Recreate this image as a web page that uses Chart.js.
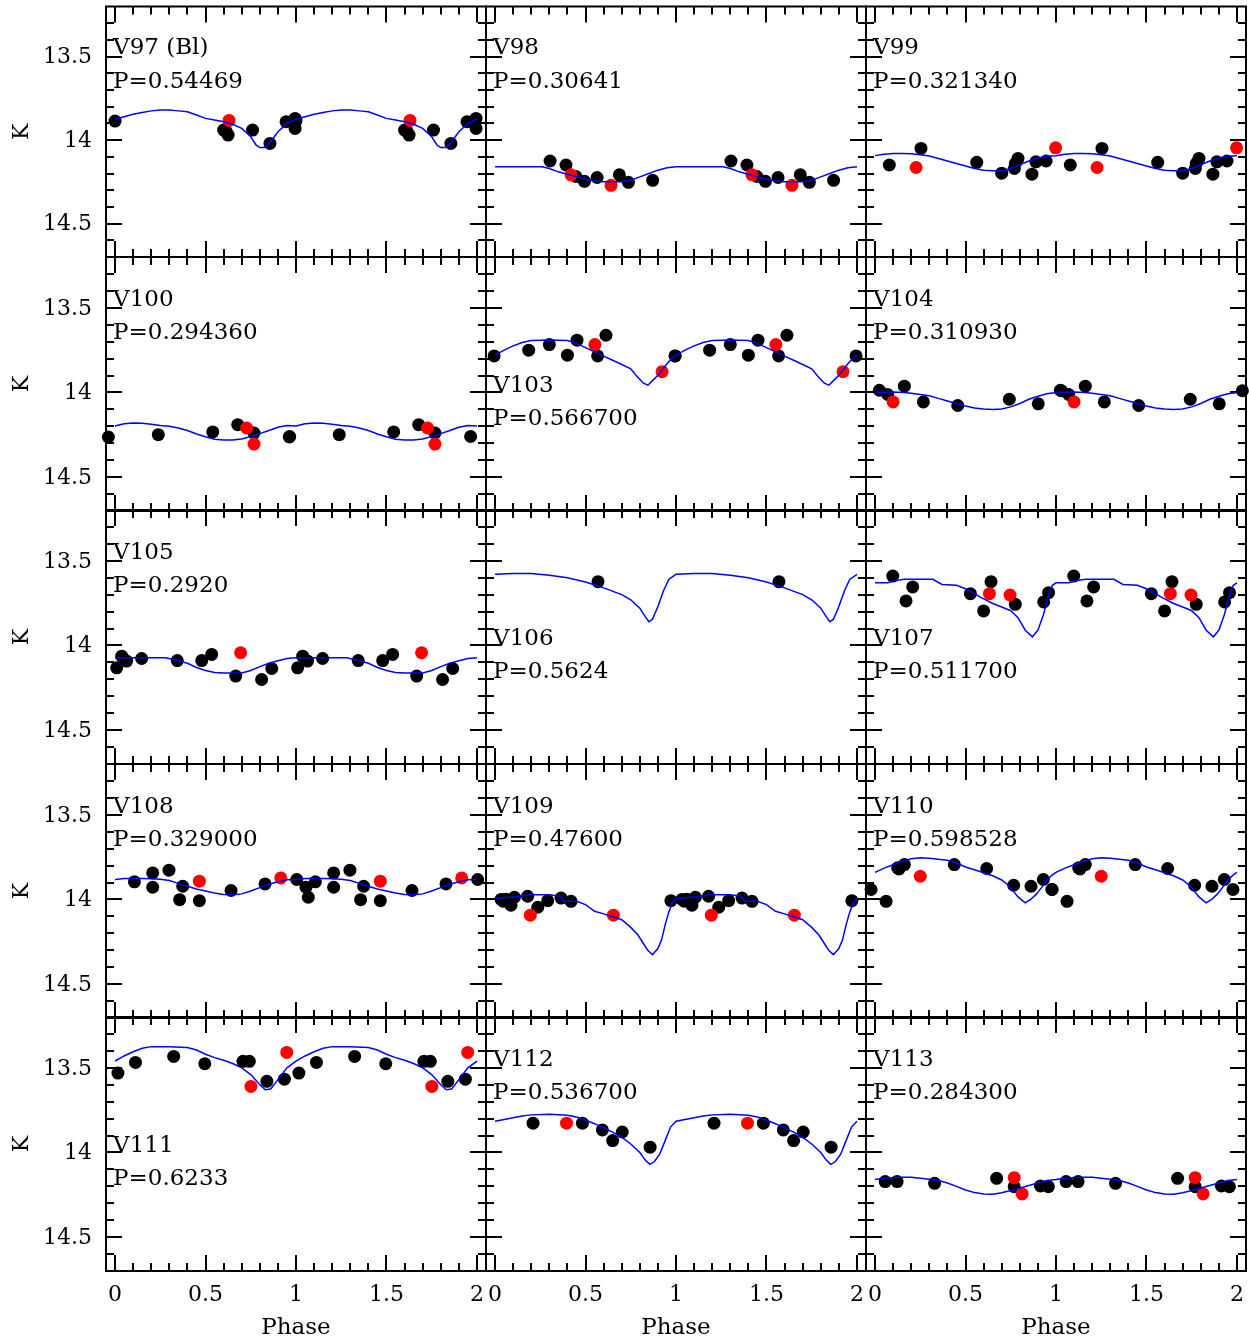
<!DOCTYPE html>
<html>
<head>
<meta charset="utf-8">
<title>K-band light curves</title>
<script src="https://cdn.jsdelivr.net/npm/chart.js@4.4.1/dist/chart.umd.min.js"></script>
<style>
  html, body { margin: 0; padding: 0; background: #fff; width: 1249px; height: 1341px; overflow: hidden; }
  canvas { position: absolute; }
</style>
</head>
<body>
<script>
// ---- axis ticks -------------------------------------------------------
const phaseTicks = [0, 0.5, 1, 1.5, 2];
const phaseTickLabels = ['0', '0.5', '1', '1.5', '2'];
const magTicks = [13.5, 14, 14.5];
const magTickLabels = ['13.5', '14', '14.5'];

// ---- stars: name and period, row by row -------------------------------
const starNames = ['V97 (Bl)', 'V98', 'V99', 'V100', 'V103', 'V104', 'V105', 'V106', 'V107',
                   'V108', 'V109', 'V110', 'V111', 'V112', 'V113'];
const periodLabels = ['P=0.54469', 'P=0.30641', 'P=0.321340', 'P=0.294360', 'P=0.566700', 'P=0.310930',
                      'P=0.2920', 'P=0.5624', 'P=0.511700', 'P=0.329000', 'P=0.47600', 'P=0.598528',
                      'P=0.6233', 'P=0.536700', 'P=0.284300'];
// stars whose name sits lower in the panel
const lowLabelStars = ['V103', 'V106', 'V107', 'V111'];

// ---- photometry [phase, K] (black = one data set, red = the other) ----
const v97Black = [[0.0, 13.886], [0.60, 13.94], [0.625, 13.97], [0.615, 13.95], [0.76, 13.94], [0.856, 14.02], [0.945, 13.89], [0.995, 13.87], [0.995, 13.93]];
const v97Red = [[0.63, 13.882]];
const v98Black = [[0.304, 14.125], [0.392, 14.149], [0.447, 14.218], [0.494, 14.247], [0.564, 14.224], [0.687, 14.208], [0.737, 14.253], [0.871, 14.241]];
const v98Red = [[0.42, 14.208], [0.641, 14.271]];
const v99Black = [[0.079, 14.149], [0.254, 14.05], [0.562, 14.133], [0.70, 14.198], [0.77, 14.17], [0.775, 14.14], [0.79, 14.11], [0.867, 14.204], [0.889, 14.13], [0.945, 14.125]];
const v99Red = [[0.227, 14.164], [0.998, 14.046]];
const v100Black = [[-0.037, 14.263], [0.239, 14.249], [0.54, 14.233], [0.678, 14.19], [0.768, 14.24], [0.965, 14.26]];
const v100Red = [[0.727, 14.21], [0.768, 14.305]];
const v103Black = [[-0.005, 13.784], [0.186, 13.75], [0.30, 13.717], [0.40, 13.78], [0.453, 13.691], [0.567, 13.784], [0.613, 13.662], [0.995, 13.784]];
const v103Red = [[0.552, 13.717], [0.923, 13.877]];
const v104Black = [[0.024, 13.987], [0.07, 14.012], [0.162, 13.963], [0.267, 14.056], [0.457, 14.077], [0.742, 14.04], [0.902, 14.067], [1.03, 13.99]];
const v104Red = [[0.10, 14.056]];
const v105Black = [[0.009, 14.132], [0.037, 14.063], [0.064, 14.092], [0.147, 14.077], [0.344, 14.089], [0.479, 14.089], [0.534, 14.053], [0.667, 14.181], [0.81, 14.201], [0.866, 14.136]];
const v105Red = [[0.694, 14.043]];
const v106Black = [[0.569, 13.623]];
const v106Red = [];
const v107Black = [[0.098, 13.59], [0.171, 13.737], [0.208, 13.654], [0.527, 13.694], [0.60, 13.796], [0.641, 13.623], [0.775, 13.757], [0.932, 13.743], [0.959, 13.688]];
const v107Red = [[0.632, 13.694], [0.746, 13.702]];
const v108Black = [[0.107, 13.896], [0.208, 13.843], [0.208, 13.928], [0.298, 13.827], [0.357, 14.001], [0.374, 13.922], [0.466, 14.007], [0.641, 13.947], [0.829, 13.908], [1.004, 13.882], [1.055, 13.928], [1.068, 13.987]];
const v108Red = [[0.466, 13.892], [0.916, 13.873]];
const v109Black = [[0.033, 14.0], [0.045, 14.01], [0.06, 13.998], [0.088, 14.034], [0.107, 13.987], [0.18, 13.981], [0.236, 14.046], [0.291, 14.007], [0.365, 13.992], [0.42, 14.011], [0.972, 14.007]];
const v109Red = [[0.195, 14.093], [0.654, 14.093]];
const v110Black = [[-0.022, 13.941], [0.061, 14.011], [0.125, 13.813], [0.133, 13.82], [0.162, 13.794], [0.438, 13.794], [0.617, 13.817], [0.766, 13.916], [0.862, 13.922], [0.93, 13.882], [0.978, 13.941]];
const v110Red = [[0.25, 13.863]];
const v111Black = [[0.016, 13.531], [0.113, 13.468], [0.324, 13.433], [0.496, 13.476], [0.707, 13.462], [0.742, 13.462], [0.839, 13.58], [0.936, 13.567]];
const v111Red = [[0.751, 13.61], [0.949, 13.409]];
const v112Black = [[0.21, 13.827], [0.483, 13.827], [0.593, 13.867], [0.65, 13.93], [0.703, 13.879], [0.857, 13.969]];
const v112Red = [[0.395, 13.827]];
const v113Black = [[0.056, 14.172], [0.122, 14.172], [0.329, 14.182], [0.672, 14.153], [0.769, 14.202], [0.914, 14.198], [0.958, 14.202]];
const v113Red = [[0.769, 14.149], [0.813, 14.245]];

// ---- template light curves over one cycle [phase, K] ------------------
const v97Model = [[0, 13.875], [0.05, 13.86], [0.1, 13.845], [0.15, 13.835], [0.2, 13.825], [0.25, 13.82], [0.3, 13.82], [0.35, 13.825], [0.4, 13.83], [0.45, 13.85], [0.5, 13.87], [0.55, 13.88], [0.6, 13.89], [0.65, 13.905], [0.7, 13.93], [0.75, 13.98], [0.78, 14.03], [0.8, 14.045], [0.83, 14.045], [0.86, 14.01], [0.9, 13.95], [0.95, 13.9], [1, 13.875]];
const v98Model = [[0, 14.16], [0.1, 14.16], [0.2, 14.16], [0.26, 14.16], [0.3, 14.17], [0.35, 14.19], [0.4, 14.205], [0.45, 14.22], [0.5, 14.235], [0.55, 14.245], [0.6, 14.25], [0.7, 14.25], [0.75, 14.24], [0.8, 14.22], [0.85, 14.2], [0.9, 14.18], [0.95, 14.165], [1, 14.16]];
const v99Model = [[0, 14.093], [0.05, 14.085], [0.1, 14.08], [0.15, 14.08], [0.2, 14.082], [0.25, 14.088], [0.3, 14.095], [0.35, 14.11], [0.4, 14.125], [0.45, 14.14], [0.5, 14.155], [0.55, 14.17], [0.6, 14.18], [0.65, 14.184], [0.7, 14.183], [0.75, 14.17], [0.8, 14.148], [0.85, 14.125], [0.9, 14.107], [0.95, 14.097], [1, 14.093]];
const v100Model = [[0, 14.198], [0.05, 14.185], [0.1, 14.18], [0.15, 14.182], [0.2, 14.188], [0.25, 14.195], [0.3, 14.2], [0.35, 14.21], [0.4, 14.225], [0.45, 14.245], [0.5, 14.262], [0.55, 14.276], [0.6, 14.28], [0.65, 14.28], [0.7, 14.275], [0.75, 14.26], [0.8, 14.243], [0.85, 14.225], [0.9, 14.205], [0.95, 14.195], [1, 14.198]];
const v103Model = [[0, 13.78], [0.05, 13.75], [0.1, 13.725], [0.15, 13.705], [0.2, 13.693], [0.3, 13.69], [0.4, 13.693], [0.45, 13.71], [0.5, 13.735], [0.55, 13.76], [0.6, 13.785], [0.65, 13.81], [0.7, 13.835], [0.75, 13.86], [0.78, 13.9], [0.82, 13.945], [0.845, 13.957], [0.87, 13.93], [0.9, 13.898], [0.95, 13.83], [0.98, 13.795], [1, 13.78]];
const v104Model = [[0, 14.0], [0.1, 13.997], [0.16, 14.0], [0.2, 14.005], [0.25, 14.012], [0.3, 14.02], [0.35, 14.035], [0.4, 14.05], [0.45, 14.065], [0.5, 14.08], [0.55, 14.092], [0.6, 14.098], [0.65, 14.1], [0.7, 14.098], [0.75, 14.085], [0.8, 14.065], [0.85, 14.04], [0.9, 14.022], [0.95, 14.008], [1, 14.0]];
const v105Model = [[0, 14.073], [0.1, 14.072], [0.2, 14.072], [0.28, 14.073], [0.35, 14.09], [0.4, 14.105], [0.45, 14.13], [0.5, 14.148], [0.55, 14.16], [0.6, 14.163], [0.7, 14.162], [0.75, 14.148], [0.8, 14.125], [0.85, 14.105], [0.9, 14.09], [0.95, 14.077], [1, 14.073]];
const v106Model = [[0, 13.58], [0.1, 13.575], [0.2, 13.575], [0.3, 13.585], [0.4, 13.6], [0.5, 13.625], [0.6, 13.66], [0.7, 13.7], [0.75, 13.73], [0.8, 13.78], [0.83, 13.83], [0.85, 13.86], [0.87, 13.845], [0.9, 13.77], [0.93, 13.68], [0.96, 13.61], [1, 13.58]];
const v107Model = [[0, 13.63], [0.07, 13.629], [0.1, 13.62], [0.16, 13.609], [0.25, 13.609], [0.32, 13.609], [0.37, 13.64], [0.45, 13.645], [0.5, 13.665], [0.55, 13.695], [0.6, 13.725], [0.65, 13.752], [0.7, 13.773], [0.75, 13.795], [0.79, 13.836], [0.83, 13.91], [0.87, 13.949], [0.9, 13.91], [0.93, 13.82], [0.96, 13.7], [0.98, 13.645], [1, 13.63]];
const v108Model = [[0, 13.882], [0.05, 13.876], [0.1, 13.876], [0.15, 13.876], [0.2, 13.877], [0.25, 13.88], [0.3, 13.888], [0.35, 13.905], [0.4, 13.922], [0.45, 13.938], [0.5, 13.95], [0.55, 13.962], [0.6, 13.971], [0.65, 13.972], [0.7, 13.967], [0.75, 13.95], [0.8, 13.93], [0.85, 13.91], [0.9, 13.895], [0.95, 13.884], [1, 13.882]];
const v109Model = [[0, 13.995], [0.05, 13.99], [0.1, 13.985], [0.15, 13.978], [0.2, 13.972], [0.3, 13.972], [0.36, 13.98], [0.38, 14.01], [0.45, 14.011], [0.5, 14.03], [0.55, 14.07], [0.6, 14.085], [0.66, 14.105], [0.7, 14.12], [0.75, 14.165], [0.79, 14.21], [0.82, 14.26], [0.845, 14.302], [0.87, 14.326], [0.9, 14.29], [0.92, 14.24], [0.94, 14.15], [0.96, 14.075], [0.98, 14.02], [1, 13.995]];
const v110Model = [[0, 13.84], [0.05, 13.815], [0.1, 13.795], [0.15, 13.775], [0.2, 13.76], [0.25, 13.754], [0.3, 13.756], [0.35, 13.762], [0.4, 13.768], [0.45, 13.785], [0.5, 13.808], [0.55, 13.825], [0.6, 13.842], [0.65, 13.86], [0.7, 13.885], [0.73, 13.91], [0.76, 13.945], [0.79, 13.985], [0.83, 14.02], [0.86, 14.0], [0.89, 13.97], [0.92, 13.93], [0.95, 13.885], [0.98, 13.855], [1, 13.84]];
const v111Model = [[0, 13.46], [0.05, 13.43], [0.1, 13.405], [0.15, 13.385], [0.2, 13.375], [0.3, 13.375], [0.4, 13.38], [0.45, 13.395], [0.5, 13.42], [0.55, 13.44], [0.6, 13.455], [0.65, 13.475], [0.7, 13.5], [0.75, 13.54], [0.8, 13.6], [0.83, 13.63], [0.86, 13.625], [0.9, 13.57], [0.95, 13.5], [1, 13.46]];
const v112Model = [[0, 13.815], [0.05, 13.805], [0.1, 13.795], [0.15, 13.785], [0.2, 13.778], [0.3, 13.775], [0.4, 13.78], [0.45, 13.79], [0.5, 13.81], [0.55, 13.83], [0.6, 13.855], [0.65, 13.88], [0.7, 13.91], [0.75, 13.95], [0.8, 14.0], [0.83, 14.045], [0.855, 14.07], [0.88, 14.055], [0.91, 14.01], [0.94, 13.93], [0.97, 13.85], [1, 13.815]];
const v113Model = [[0, 14.16], [0.05, 14.152], [0.1, 14.148], [0.15, 14.146], [0.2, 14.147], [0.25, 14.152], [0.3, 14.158], [0.35, 14.165], [0.4, 14.18], [0.45, 14.2], [0.5, 14.222], [0.55, 14.237], [0.6, 14.245], [0.65, 14.247], [0.7, 14.238], [0.75, 14.225], [0.8, 14.21], [0.85, 14.195], [0.9, 14.18], [0.95, 14.165], [1, 14.16]];

const blackSets = [v97Black, v98Black, v99Black, v100Black, v103Black, v104Black, v105Black, v106Black, v107Black, v108Black, v109Black, v110Black, v111Black, v112Black, v113Black];
const redSets = [v97Red, v98Red, v99Red, v100Red, v103Red, v104Red, v105Red, v106Red, v107Red, v108Red, v109Red, v110Red, v111Red, v112Red, v113Red];
const modelSets = [v97Model, v98Model, v99Model, v100Model, v103Model, v104Model, v105Model, v106Model, v107Model, v108Model, v109Model, v110Model, v111Model, v112Model, v113Model];

// ---- layout --------------------------------------------------------------
const PHASE_MIN = -0.05, PHASE_MAX = 2.05;
const MAG_BRIGHT = 13.2, MAG_FAINT = 14.7;
const colLeft = [106, 486, 866];
const rowTop = [3, 257, 510, 764, 1017];
const PANEL_W = 380, PANEL_H = 254;
const FONT = '"DejaVu Serif", "Liberation Serif", serif';

// each observation is shown over two cycles
function twoCycles(list) {
  return list
    .flatMap(([p, m]) => [{ x: p, y: m }, { x: p + 1, y: m }])
    .filter(pt => pt.x >= PHASE_MIN && pt.x <= PHASE_MAX);
}
function twoCycleCurve(list) {
  return list.map(([p, m]) => ({ x: p, y: m }))
    .concat(list.slice(1).map(([p, m]) => ({ x: p + 1, y: m })));
}

const panelFrame = {
  id: 'panelFrame',
  beforeDatasetsDraw(chart, args, o) {
    const { ctx, chartArea: a, scales: { x, y } } = chart;
    ctx.save();
    ctx.strokeStyle = '#000';
    ctx.lineWidth = 2;
    ctx.strokeRect(a.left, a.top, a.right - a.left, a.bottom - a.top);
    ctx.beginPath();
    for (let k = 0; k <= 20; k++) {
      const px = Math.round(x.getPixelForValue(k / 10));
      const len = k % 5 === 0 ? 16 : 8;
      ctx.moveTo(px, a.bottom); ctx.lineTo(px, a.bottom - len);
      ctx.moveTo(px, a.top); ctx.lineTo(px, a.top + len);
    }
    for (let k = 133; k <= 146; k++) {
      const py = Math.round(y.getPixelForValue(k / 10));
      const len = k % 5 === 0 ? 16 : 8;
      ctx.moveTo(a.left, py); ctx.lineTo(a.left + len, py);
      ctx.moveTo(a.right, py); ctx.lineTo(a.right - len, py);
    }
    ctx.stroke();
    ctx.restore();
  },
  afterDatasetsDraw(chart, args, o) {
    const { ctx, chartArea: a, scales: { x, y } } = chart;
    ctx.save();
    ctx.fillStyle = '#000';
    // star name and period
    ctx.font = '23px ' + FONT;
    ctx.textAlign = 'left';
    ctx.textBaseline = 'alphabetic';
    const lx = x.getPixelForValue(0) - 2;
    const m1 = o.low ? 13.995 : 13.487;
    const m2 = o.low ? 14.195 : 13.687;
    ctx.fillText(o.name, lx, y.getPixelForValue(m1));
    ctx.fillText(o.period, lx, y.getPixelForValue(m2));
    // magnitude axis
    if (o.col === 0) {
      ctx.font = '22px ' + FONT;
      ctx.textAlign = 'right';
      ctx.textBaseline = 'middle';
      magTicks.forEach((v, i) => ctx.fillText(magTickLabels[i], a.left - 14, y.getPixelForValue(v) + 1));
      ctx.save();
      ctx.translate(22, (a.top + a.bottom) / 2);
      ctx.rotate(-Math.PI / 2);
      ctx.textAlign = 'center';
      ctx.fillText('K', 0, 0);
      ctx.restore();
    }
    // phase axis
    if (o.row === 4) {
      ctx.font = '22px ' + FONT;
      ctx.textAlign = 'center';
      ctx.textBaseline = 'alphabetic';
      phaseTicks.forEach((v, i) => ctx.fillText(phaseTickLabels[i], x.getPixelForValue(v), a.bottom + 30));
      ctx.font = '23px ' + FONT;
      ctx.fillText('Phase', (a.left + a.right) / 2, a.bottom + 63);
    }
    ctx.restore();
  }
};

starNames.forEach((name, i) => {
  const row = Math.floor(i / 3), col = i % 3;
  const padL = col === 0 ? 106 : 12;
  const padR = 12;
  const padT = row === 0 ? 3 : 12;
  const padB = row === 4 ? 70 : 12;
  const canvas = document.createElement('canvas');
  canvas.width = PANEL_W + padL + padR;
  canvas.height = PANEL_H + padT + padB;
  canvas.style.left = (colLeft[col] - padL) + 'px';
  canvas.style.top = (rowTop[row] - padT) + 'px';
  canvas.style.width = canvas.width + 'px';
  canvas.style.height = canvas.height + 'px';
  document.body.appendChild(canvas);

  new Chart(canvas, {
    type: 'scatter',
    data: {
      datasets: [
        {
          label: 'template',
          data: twoCycleCurve(modelSets[i]),
          showLine: true,
          borderColor: '#0000ff',
          borderWidth: 1.5,
          pointRadius: 0,
          tension: 0,
          order: 0
        },
        {
          label: 'red',
          data: twoCycles(redSets[i]),
          backgroundColor: '#ff0000',
          borderWidth: 0,
          pointRadius: 6.5,
          order: 1,
          clip: 10
        },
        {
          label: 'black',
          data: twoCycles(blackSets[i]),
          backgroundColor: '#000000',
          borderWidth: 0,
          pointRadius: 6.5,
          order: 2,
          clip: 10
        }
      ]
    },
    options: {
      responsive: false,
      animation: false,
      devicePixelRatio: 1,
      events: [],
      layout: { padding: { left: padL, right: padR, top: padT, bottom: padB } },
      scales: {
        x: { type: 'linear', min: PHASE_MIN, max: PHASE_MAX, display: false },
        y: { type: 'linear', min: MAG_BRIGHT, max: MAG_FAINT, reverse: true, display: false }
      },
      plugins: {
        legend: { display: false },
        tooltip: { enabled: false },
        panelFrame: {
          name: name,
          period: periodLabels[i],
          low: lowLabelStars.includes(name),
          row: row,
          col: col
        }
      }
    },
    plugins: [panelFrame]
  });
});
</script>
</body>
</html>
